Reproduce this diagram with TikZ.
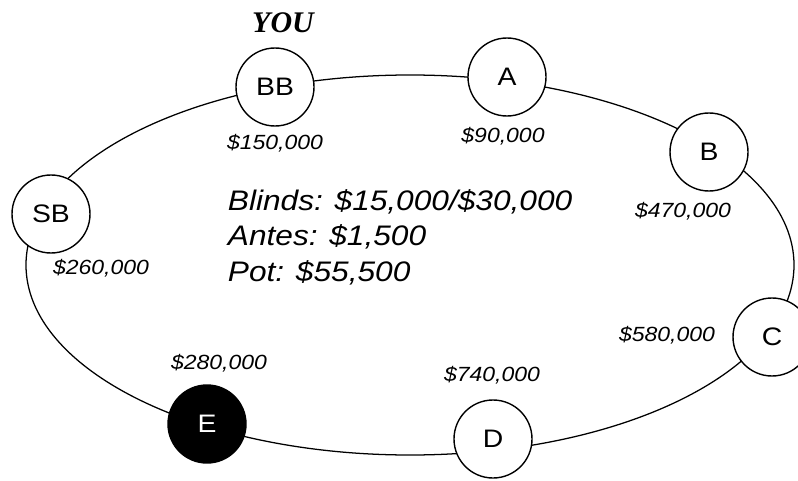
\documentclass[tikz,border=0pt]{standalone}
\usepackage{fontspec}
\setmainfont{Liberation Sans}[FakeStretch=1.12]
\newfontfamily\youfont{Liberation Serif}
\begin{document}
\begin{tikzpicture}[seat/.style={circle,draw,line width=1pt,fill=white,minimum size=1.95cm,inner sep=0pt,font=\fontsize{18}{20}\selectfont},
stack/.style={font=\fontsize{14.6}{16}\selectfont\itshape},
info/.style={anchor=base west,font=\fontsize{20.1}{23}\selectfont\itshape}]
\useasboundingbox (0,0) rectangle (19.95,12);
\draw[line width=0.9pt] (10.25,5.375) ellipse (9.6cm and 4.75cm);
\node[seat] (bb) at (6.875,9.825) {BB};
\node[seat] (a) at (12.675,10.075) {A};
\node[seat] (b) at (17.725,8.2) {B};
\node[seat] (c) at (19.3,3.575) {C};
\node[seat] (d) at (12.325,1.025) {D};
\node[seat,fill=black,text=white] (e) at (5.175,1.4) {E};
\node[seat] (sb) at (1.275,6.65) {SB};
\node[font=\fontsize{21.3}{24}\youfont\bfseries\itshape] (you) at (7.075,11.425) {YOU};
\node[stack] (bbstack) at (6.875,8.425) {\$150,000};
\node[stack] (astack) at (12.575,8.6) {\$90,000};
\node[stack] (bstack) at (17.075,6.725) {\$470,000};
\node[stack] (cstack) at (16.675,3.625) {\$580,000};
\node[stack] (dstack) at (12.3,2.625) {\$740,000};
\node[stack] (estack) at (5.475,2.925) {\$280,000};
\node[stack] (sbstack) at (2.525,5.3) {\$260,000};
\node[info] (blinds) at (5.575,6.75) {Blinds: \$15,000/\$30,000};
\node[info] (antes) at (5.575,5.8625) {Antes: \$1,500};
\node[info] (pot) at (5.575,4.975) {Pot: \$55,500};
\end{tikzpicture}
\end{document}
